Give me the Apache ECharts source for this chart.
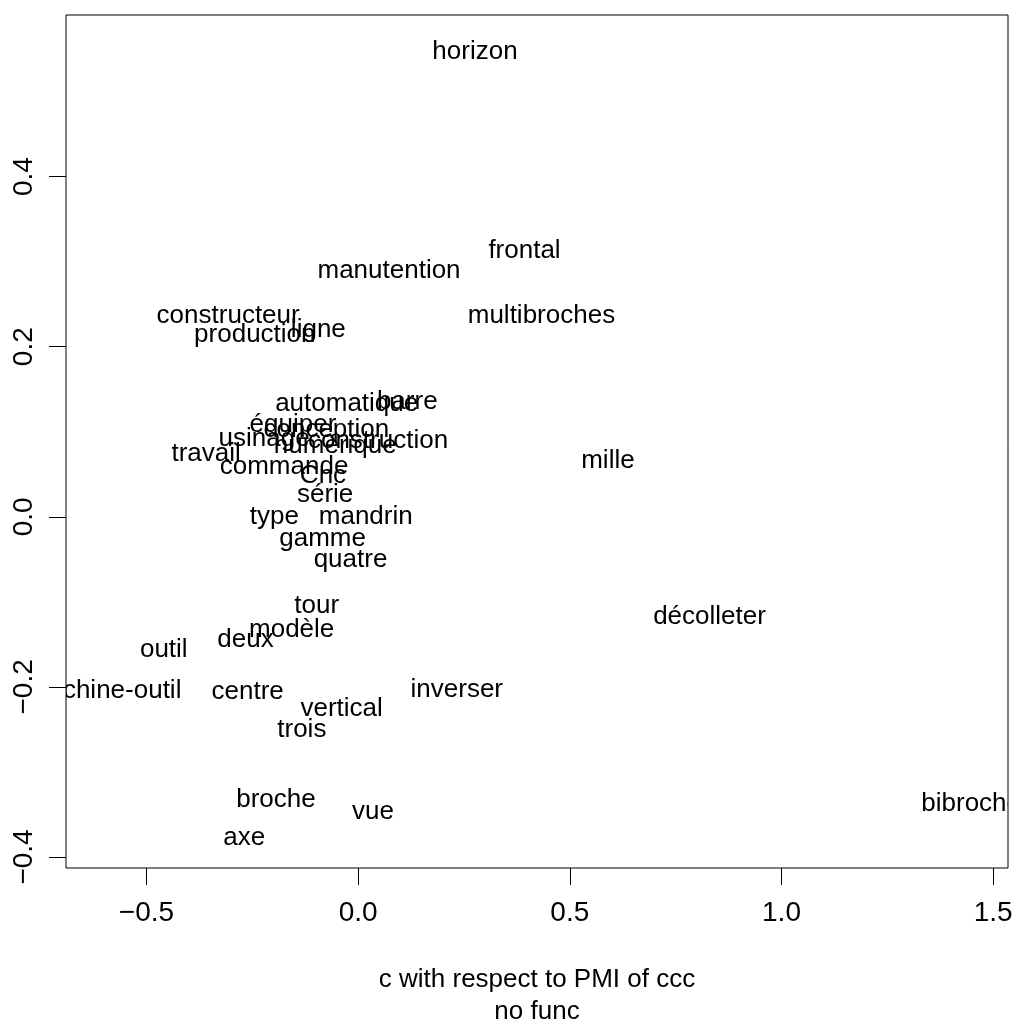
<!DOCTYPE html>
<html>
<head>
<meta charset="utf-8">
<script src="https://cdn.jsdelivr.net/npm/echarts@6/dist/echarts.min.js"></script>
<style>
  html, body { margin: 0; padding: 0; background: #fff; overflow: hidden; }
  #chart { width: 1015px; height: 1020px; }
</style>
</head>
<body>
<div id="chart"></div>
<script>
// Words placed by their coordinates
const words = [
  'horizon', 'frontal', 'manutention', 'multibroches', 'constructeur', 'production', 'ligne',
  'automatique', 'barre', 'équiper', 'conception', 'usinage', 'numérique', 'construction',
  'travail', 'commande', 'Cnc', 'série', 'type', 'mandrin', 'gamme', 'quatre', 'mille',
  'décolleter', 'bibroche', 'tour', 'modèle', 'deux', 'outil', 'machine-outil', 'centre',
  'inverser', 'vertical', 'trois', 'broche', 'vue', 'axe'
];
const xValues = [
  0.276, 0.393, 0.073, 0.433, -0.307, -0.244, -0.094,
  -0.027, 0.116, -0.154, -0.075, -0.222, -0.054, 0.047,
  -0.359, -0.175, -0.083, -0.078, -0.198, 0.018, -0.084, -0.018, 0.590,
  0.830, 1.448, -0.098, -0.157, -0.266, -0.459, -0.600, -0.261,
  0.233, -0.039, -0.133, -0.194, 0.035, -0.269
];
const yValues = [
  0.549, 0.315, 0.292, 0.239, 0.239, 0.216, 0.222,
  0.135, 0.137, 0.110, 0.104, 0.094, 0.086, 0.092,
  0.076, 0.061, 0.050, 0.028, 0.002, 0.002, -0.024, -0.048, 0.068,
  -0.115, -0.335, -0.102, -0.131, -0.142, -0.154, -0.202, -0.203,
  -0.201, -0.224, -0.248, -0.330, -0.345, -0.375
];
const xTicks = [-0.5, 0.0, 0.5, 1.0, 1.5];
const yTicks = [-0.4, -0.2, 0.0, 0.2, 0.4];

const FONT = '"Liberation Sans", Arial, sans-serif';
const points = words.map((w, i) => [xValues[i], yValues[i]]);
// tick labels use a true minus sign
const fmt = v => (v < 0 ? '\u2212' : '') + Math.abs(v).toFixed(1);

const chart = echarts.init(document.getElementById('chart'), null, { renderer: 'canvas' });
chart.setOption({
  animation: false,
  backgroundColor: '#ffffff',
  grid: {
    left: 66, right: 7, top: 15, bottom: 152,
    outerBoundsMode: 'none',
    containLabel: false,
    show: true, borderColor: '#000', borderWidth: 1, backgroundColor: 'transparent'
  },
  xAxis: {
    type: 'value',
    min: -0.690, max: 1.535,
    splitLine: { show: false },
    axisLine: { show: false, onZero: false },
    axisTick: { show: true, length: 17, inside: false, customValues: xTicks, lineStyle: { color: '#000', width: 1 } },
    axisLabel: {
      customValues: xTicks, color: '#000', fontSize: 28, fontFamily: FONT, margin: 31,
      formatter: fmt
    },
    name: 'c with respect to PMI of ccc\nno func',
    nameLocation: 'middle',
    nameGap: 96,
    nameTextStyle: { color: '#000', fontSize: 26, fontFamily: FONT, lineHeight: 32 }
  },
  yAxis: {
    type: 'value',
    min: -0.413, max: 0.590,
    splitLine: { show: false },
    axisLine: { show: false, onZero: false },
    axisTick: { show: true, length: 17, inside: false, customValues: yTicks, lineStyle: { color: '#000', width: 1 } },
    axisLabel: {
      customValues: yTicks, color: '#000', fontSize: 28, fontFamily: FONT, margin: 28, rotate: 90,
      formatter: fmt
    }
  },
  series: [{
    type: 'custom',
    clip: true,
    data: points,
    renderItem: function (params, api) {
      const p = api.coord([api.value(0), api.value(1)]);
      return {
        type: 'text',
        x: p[0], y: p[1] + 2,
        style: {
          text: words[params.dataIndex],
          fill: '#000',
          font: '26px ' + FONT,
          align: 'center',
          verticalAlign: 'middle'
        }
      };
    }
  }]
});
</script>
</body>
</html>
